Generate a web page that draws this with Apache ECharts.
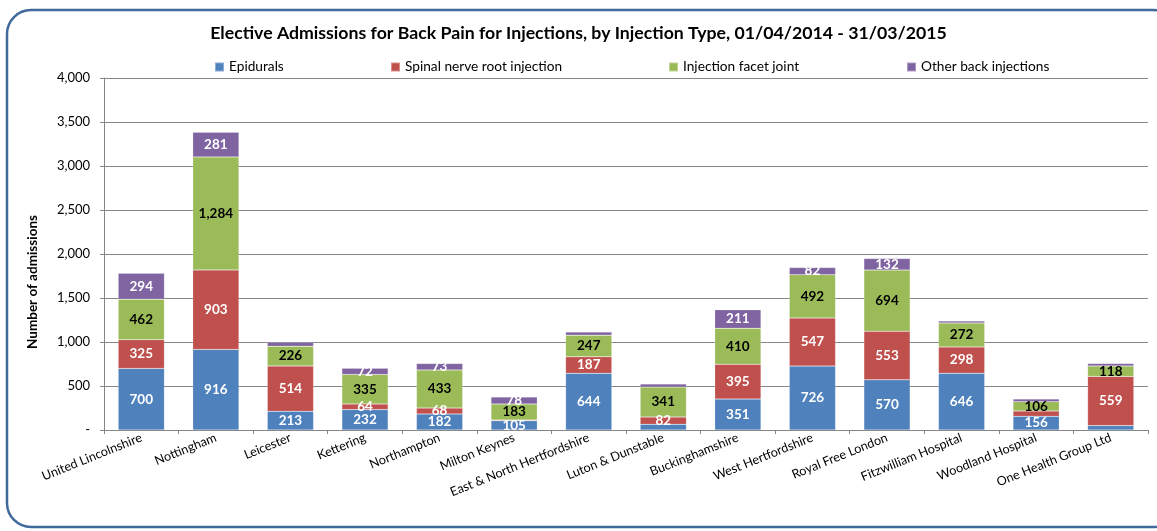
<!DOCTYPE html>
<html>
<head>
<meta charset="utf-8">
<script src="https://cdn.jsdelivr.net/npm/echarts@6/dist/echarts.min.js"></script>
<style>
html,body{margin:0;padding:0;background:#fff;}
#c{width:1157px;height:531px;}
</style>
</head>
<body>
<div id="c"></div>
<script>
var titleText = 'Elective Admissions for Back Pain for Injections, by Injection Type, 01/04/2014 - 31/03/2015';
var yAxisTitle = 'Number of admissions';
var categories = ['United Lincolnshire','Nottingham','Leicester','Kettering','Northampton','Milton Keynes','East & North Hertfordshire','Luton & Dunstable','Buckinghamshire','West Hertfordshire','Royal Free London','Fitzwilliam Hospital','Woodland Hospital','One Health Group Ltd'];
var seriesNames = ['Epidurals','Spinal nerve root injection','Injection facet joint','Other back injections'];
var epidurals = [700,916,213,232,182,105,644,65,351,726,570,646,156,50];
var spinal    = [325,903,514,64,68,8,187,82,395,547,553,298,60,559];
var facet     = [462,1284,226,335,433,183,247,341,410,492,694,272,106,118];
var other     = [294,281,45,72,73,78,35,35,211,82,132,23,30,30];
// 1 = value printed on the chart, 0 = estimated from the bar (no label in the reference)
var epiduralsShown = [1,1,1,1,1,1,1,0,1,1,1,1,1,0];
var spinalShown    = [1,1,1,1,1,0,1,1,1,1,1,1,0,1];
var facetShown     = [1,1,1,1,1,1,1,1,1,1,1,1,1,1];
var otherShown     = [1,1,0,1,1,1,0,0,1,1,1,0,0,0];
var yTicks = [0,500,1000,1500,2000,2500,3000,3500,4000];

var colors = ['#4F81BD','#C0504D','#9BBB59','#8064A2'];
var labelColors = ['#fff','#fff','#000','#fff'];
var values = [epidurals, spinal, facet, other];
var shown = [epiduralsShown, spinalShown, facetShown, otherShown];

var chart = echarts.init(document.getElementById('c'));
var fontFam = 'Lato, "Open Sans", sans-serif';

function fmt(v){ return v === 0 ? '-' : v.toLocaleString('en-US'); }

var series = seriesNames.map(function(name, s){
  return {
    name: name,
    type: 'bar',
    stack: 'total',
    barWidth: '62%',
    itemStyle: {color: colors[s], borderColor: 'rgba(255,255,255,0.35)', borderWidth: 0.5},
    label: {show: true, position: 'inside', color: labelColors[s], fontWeight: 'bold', fontSize: 13.5, fontFamily: fontFam,
            formatter: function(p){ return fmt(p.value); }},
    data: values[s].map(function(v, i){
      return shown[s][i] ? v : {value: v, label: {show: false}};
    })
  };
});

var legendLefts = [214, 390, 668, 906];
var legends = seriesNames.map(function(name, s){
  return {
    data: [name], left: legendLefts[s], top: 60, padding: 0,
    icon: 'rect', itemWidth: 9, itemHeight: 9, itemGap: 3,
    textStyle: {fontSize: 13.7, fontFamily: fontFam, color: '#000'},
    selectedMode: false
  };
});

chart.setOption({
  animation: false,
  color: colors,
  title: {text: titleText, left: 'center', top: 19,
          textStyle: {fontSize: 17.7, fontWeight: 'bold', fontFamily: fontFam, color: '#000'}},
  legend: legends,
  grid: {left: 104, right: 9, top: 78, bottom: 101, containLabel: false},
  xAxis: {
    type: 'category', data: categories,
    axisLine: {lineStyle: {color: '#868686'}},
    axisTick: {show: true, length: 4, lineStyle: {color: '#868686'}},
    axisLabel: {interval: 0, rotate: 22, fontSize: 12.6, fontFamily: fontFam, color: '#000', margin: 7}
  },
  yAxis: {
    type: 'value', min: yTicks[0], max: yTicks[yTicks.length-1], interval: yTicks[1]-yTicks[0],
    axisLine: {show: true, lineStyle: {color: '#868686'}},
    axisTick: {show: true, length: 4, lineStyle: {color: '#868686'}},
    splitLine: {lineStyle: {color: '#868686', width: 1}},
    axisLabel: {formatter: fmt, fontSize: 13, fontFamily: fontFam, color: '#000', margin: 14}
  },
  graphic: [
    {type: 'rect', shape: {x: 7, y: 10, width: 1170, height: 517, r: 24}, z: -10,
     style: {fill: 'none', stroke: '#41699C', lineWidth: 2.5}},
    {type: 'text', x: 33, y: 282, rotation: Math.PI/2,
     style: {text: yAxisTitle, fontSize: 13.5, fontWeight: 'bold', fontFamily: fontFam, fill: '#000', align: 'center', verticalAlign: 'middle'}}
  ],
  series: series
});
</script>
</body>
</html>
